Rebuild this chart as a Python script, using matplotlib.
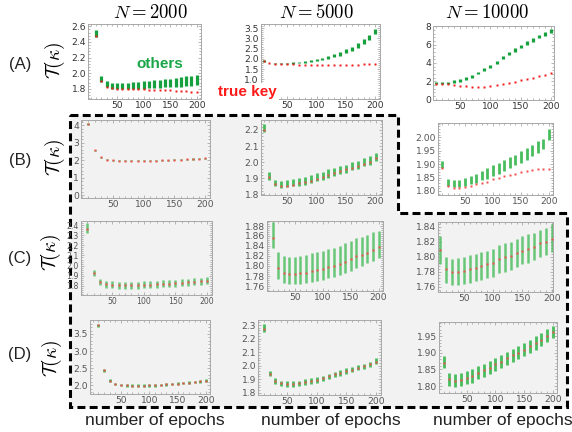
import numpy as np
import matplotlib
matplotlib.use("Agg")
import matplotlib.pyplot as plt
from matplotlib.patches import Polygon
from matplotlib.ticker import AutoMinorLocator, FormatStrFormatter

plt.rcParams["mathtext.fontset"] = "cm"

# ── Data ───────────────────────────────────────────────────────────────────────
EPOCHS = [10, 20, 30, 40, 50, 60, 70, 80, 90, 100,
          110, 120, 130, 140, 150, 160, 170, 180, 190, 200]

# (A) N = 2000 / 5000 / 10000
key_A1 = [2.48, 1.90, 1.83, 1.81, 1.80, 1.80, 1.80, 1.80, 1.80, 1.795,
          1.79, 1.79, 1.785, 1.78, 1.78, 1.775, 1.77, 1.77, 1.765, 1.76]
lo_A1 = [2.46, 1.89, 1.82, 1.80, 1.80, 1.80, 1.80, 1.80, 1.80, 1.80,
         1.81, 1.81, 1.81, 1.82, 1.82, 1.83, 1.83, 1.84, 1.84, 1.85]
hi_A1 = [2.55, 1.97, 1.90, 1.88, 1.88, 1.88, 1.88, 1.89, 1.89, 1.90,
         1.90, 1.91, 1.91, 1.92, 1.93, 1.94, 1.95, 1.96, 1.97, 1.98]

key_A2 = [1.88, 1.80, 1.77, 1.75, 1.74, 1.73, 1.72, 1.71, 1.70, 1.70,
          1.69, 1.69, 1.69, 1.69, 1.70, 1.71, 1.72, 1.73, 1.75, 1.77]
lo_A2 = [1.84, 1.78, 1.76, 1.76, 1.76, 1.77, 1.78, 1.80, 1.83, 1.87,
         1.92, 1.99, 2.07, 2.16, 2.27, 2.40, 2.55, 2.72, 2.92, 3.22]
hi_A2 = [1.92, 1.82, 1.80, 1.80, 1.81, 1.83, 1.85, 1.88, 1.92, 1.98,
         2.04, 2.12, 2.22, 2.33, 2.46, 2.60, 2.77, 2.95, 3.17, 3.48]

key_A3 = [1.72, 1.70, 1.65, 1.58, 1.50, 1.44, 1.40, 1.38, 1.40, 1.45,
          1.55, 1.68, 1.82, 1.95, 2.10, 2.25, 2.40, 2.55, 2.70, 2.87]
lo_A3 = [1.72, 1.72, 1.74, 1.80, 1.95, 2.12, 2.40, 2.78, 3.10, 3.45,
         3.85, 4.40, 4.85, 5.25, 5.65, 6.00, 6.35, 6.70, 7.00, 7.30]
hi_A3 = [1.90, 1.90, 1.95, 2.10, 2.25, 2.45, 2.70, 3.05, 3.40, 3.75,
         4.20, 4.75, 5.20, 5.60, 6.00, 6.40, 6.75, 7.05, 7.35, 7.70]

# (B)
key_B1 = [4.05, 2.55, 2.15, 2.03, 1.98, 1.96, 1.95, 1.95, 1.95, 1.95,
          1.96, 1.97, 1.98, 1.99, 2.01, 2.02, 2.04, 2.06, 2.08, 2.10]
lo_B1 = [4.01, 2.52, 2.12, 2.00, 1.95, 1.93, 1.92, 1.92, 1.92, 1.92,
         1.93, 1.94, 1.95, 1.96, 1.98, 1.99, 2.01, 2.03, 2.05, 2.07]
hi_B1 = [4.09, 2.59, 2.19, 2.07, 2.02, 2.00, 1.99, 1.99, 1.99, 1.99,
         2.00, 2.01, 2.02, 2.03, 2.05, 2.06, 2.08, 2.10, 2.12, 2.14]

key_B2 = [2.20, 1.91, 1.865, 1.855, 1.855, 1.86, 1.87, 1.875, 1.885, 1.895,
          1.905, 1.92, 1.93, 1.945, 1.955, 1.965, 1.975, 1.99, 2.00, 2.025]
lo_B2 = [2.19, 1.89, 1.85, 1.84, 1.845, 1.85, 1.855, 1.86, 1.87, 1.88,
         1.89, 1.90, 1.915, 1.925, 1.935, 1.95, 1.96, 1.975, 1.985, 2.01]
hi_B2 = [2.24, 1.94, 1.89, 1.885, 1.89, 1.895, 1.90, 1.91, 1.92, 1.93,
         1.94, 1.955, 1.965, 1.975, 1.985, 2.00, 2.01, 2.025, 2.04, 2.06]

key_B3 = [1.885, 1.82, 1.81, 1.81, 1.815, 1.82, 1.825, 1.83, 1.835, 1.845,
          1.85, 1.855, 1.86, 1.865, 1.87, 1.875, 1.877, 1.88, 1.88, 1.88]
lo_B3 = [1.885, 1.82, 1.815, 1.815, 1.82, 1.825, 1.83, 1.84, 1.845, 1.855,
         1.865, 1.875, 1.885, 1.895, 1.905, 1.915, 1.93, 1.94, 1.955, 1.99]
hi_B3 = [1.91, 1.845, 1.84, 1.84, 1.85, 1.855, 1.865, 1.875, 1.885, 1.895,
         1.905, 1.915, 1.925, 1.935, 1.95, 1.96, 1.97, 1.985, 1.995, 2.03]

# (C)
key_C1 = [2.36, 1.93, 1.84, 1.815, 1.81, 1.805, 1.805, 1.805, 1.805, 1.81,
          1.81, 1.815, 1.82, 1.82, 1.825, 1.83, 1.835, 1.84, 1.845, 1.85]
lo_C1 = [2.32, 1.90, 1.81, 1.78, 1.775, 1.77, 1.77, 1.77, 1.77, 1.775,
         1.775, 1.78, 1.785, 1.785, 1.79, 1.795, 1.80, 1.805, 1.81, 1.815]
hi_C1 = [2.42, 1.96, 1.87, 1.85, 1.845, 1.84, 1.84, 1.84, 1.84, 1.845,
         1.845, 1.85, 1.855, 1.855, 1.86, 1.865, 1.87, 1.875, 1.88, 1.885]

key_C2 = [1.855, 1.795, 1.786, 1.784, 1.784, 1.785, 1.786, 1.789, 1.791, 1.794,
          1.797, 1.80, 1.803, 1.808, 1.813, 1.819, 1.822, 1.826, 1.832, 1.837]
lo_C2 = [1.835, 1.773, 1.765, 1.763, 1.763, 1.764, 1.765, 1.767, 1.769, 1.772,
         1.775, 1.778, 1.781, 1.785, 1.79, 1.795, 1.80, 1.805, 1.81, 1.815]
hi_C2 = [1.888, 1.828, 1.82, 1.818, 1.818, 1.82, 1.822, 1.825, 1.828, 1.83,
         1.833, 1.836, 1.84, 1.845, 1.85, 1.855, 1.858, 1.862, 1.867, 1.87]

key_C3 = [1.809, 1.783, 1.779, 1.780, 1.781, 1.783, 1.785, 1.788, 1.790, 1.792,
          1.797, 1.799, 1.801, 1.805, 1.808, 1.810, 1.813, 1.818, 1.820, 1.824]
lo_C3 = [1.79, 1.765, 1.762, 1.762, 1.763, 1.765, 1.767, 1.769, 1.771, 1.773,
         1.778, 1.78, 1.782, 1.786, 1.79, 1.792, 1.795, 1.80, 1.802, 1.806]
hi_C3 = [1.828, 1.80, 1.797, 1.798, 1.80, 1.802, 1.804, 1.806, 1.808, 1.81,
         1.816, 1.818, 1.82, 1.824, 1.827, 1.83, 1.832, 1.836, 1.838, 1.843]

# (D)
key_D1 = [3.75, 2.43, 2.13, 2.03, 2.00, 1.99, 1.98, 1.98, 1.98, 1.99,
          1.99, 2.00, 2.02, 2.03, 2.04, 2.06, 2.07, 2.09, 2.11, 2.13]
lo_D1 = [3.70, 2.39, 2.09, 1.99, 1.96, 1.95, 1.94, 1.94, 1.94, 1.95,
         1.95, 1.96, 1.98, 1.99, 2.00, 2.02, 2.03, 2.05, 2.07, 2.09]
hi_D1 = [3.80, 2.47, 2.17, 2.07, 2.04, 2.03, 2.02, 2.02, 2.02, 2.03,
         2.03, 2.04, 2.06, 2.07, 2.08, 2.10, 2.11, 2.13, 2.15, 2.17]

key_D2 = [2.27, 1.94, 1.885, 1.87, 1.865, 1.865, 1.87, 1.88, 1.885, 1.895,
          1.905, 1.92, 1.935, 1.945, 1.96, 1.97, 1.985, 1.995, 2.01, 2.03]
lo_D2 = [2.25, 1.92, 1.865, 1.85, 1.845, 1.845, 1.85, 1.86, 1.865, 1.875,
         1.885, 1.90, 1.915, 1.925, 1.94, 1.95, 1.965, 1.975, 1.99, 2.01]
hi_D2 = [2.31, 1.96, 1.905, 1.89, 1.885, 1.885, 1.89, 1.90, 1.905, 1.915,
         1.925, 1.94, 1.955, 1.965, 1.98, 1.99, 2.005, 2.015, 2.03, 2.06]

key_D3 = [1.87, 1.82, 1.815, 1.818, 1.825, 1.83, 1.84, 1.847, 1.855, 1.865,
          1.873, 1.883, 1.893, 1.90, 1.91, 1.92, 1.93, 1.94, 1.952, 1.962]
lo_D3 = [1.855, 1.80, 1.797, 1.80, 1.805, 1.81, 1.82, 1.827, 1.835, 1.845,
         1.853, 1.862, 1.872, 1.88, 1.89, 1.90, 1.91, 1.92, 1.932, 1.945]
hi_D3 = [1.89, 1.84, 1.835, 1.838, 1.845, 1.85, 1.86, 1.867, 1.875, 1.885,
         1.893, 1.903, 1.913, 1.92, 1.93, 1.94, 1.95, 1.96, 1.972, 1.98]

# ── Layout (pixel boxes: left, top, right, bottom) ─────────────────────────────
W, H = 572, 432
GRAY = "#f2f2f2"

PANELS = [
    # name, box, xlim, ylim, yticks, fmt, key, lo, hi, row, labelsize
    ("A1", (88, 24, 201, 99), (-5, 208), (1.67, 2.63), [1.8, 2.0, 2.2, 2.4, 2.6], "%.1f", key_A1, lo_A1, hi_A1, "A", 6.6),
    ("A2", (261, 24, 380, 99), (5.6, 208), (0.04, 3.70), [1.0, 1.5, 2.0, 2.5, 3.0, 3.5], "%.1f", key_A2, lo_A2, hi_A2, "A", 6.6),
    ("A3", (433, 26, 554, 100), (5, 205), (-0.05, 8.05), [0, 2, 4, 6, 8], "%d", key_A3, lo_A3, hi_A3, "A", 6.6),
    ("B1", (81, 120, 210, 198), (-2, 208), (-0.17, 4.29), [0, 1, 2, 3, 4], "%d", key_B1, lo_B1, hi_B1, "B", 6.6),
    ("B2", (261, 120, 382, 195), (5.6, 211), (1.796, 2.262), [1.8, 1.9, 2.0, 2.1, 2.2], "%.1f", key_B2, lo_B2, hi_B2, "B", 6.6),
    ("B3", (438, 123, 553, 195), (2, 207), (1.785, 2.053), [1.80, 1.85, 1.90, 1.95, 2.00], "%.2f", key_B3, lo_B3, hi_B3, "B3", 6.6),
    ("C1", (81, 221, 212, 295), (0, 208), (1.71, 2.44), [1.8, 1.9, 2.0, 2.1, 2.2, 2.3, 2.4], "%.1f", key_C1, lo_C1, hi_C1, "C", 5.6),
    ("C2", (267, 221, 383, 291), (0, 208), (1.75, 1.89), [1.76, 1.78, 1.80, 1.82, 1.84, 1.86, 1.88], "%.2f", key_C2, lo_C2, hi_C2, "C", 6.6),
    ("C3", (438, 222, 553, 292), (6, 202), (1.753, 1.846), [1.76, 1.78, 1.80, 1.82, 1.84], "%.2f", key_C3, lo_C3, hi_C3, "C", 6.6),
    ("D1", (90, 320, 210, 394), (-5, 207), (1.74, 3.91), [2.0, 2.5, 3.0, 3.5], "%.1f", key_D1, lo_D1, hi_D1, "D", 6.6),
    ("D2", (258, 320, 381, 395), (0.5, 208.5), (1.783, 2.337), [1.8, 1.9, 2.0, 2.1, 2.2, 2.3], "%.1f", key_D2, lo_D2, hi_D2, "D", 6.6),
    ("D3", (439, 322, 557, 393), (2, 207), (1.779, 1.993), [1.80, 1.85, 1.90, 1.95], "%.2f", key_D3, lo_D3, hi_D3, "D", 6.6),
]


def fx(x):
    return x / W


def fy(y):
    return 1 - y / H


fig = plt.figure(figsize=(W / 100, H / 100), dpi=100)
fig.patch.set_facecolor("white")

# gray dashed region
region = [(70, 115), (398, 115), (398, 213), (567, 213), (567, 407), (70, 407)]
poly = Polygon([(fx(x), fy(y)) for x, y in region], closed=True,
               transform=fig.transFigure, facecolor=GRAY, edgecolor="black",
               lw=2.2, linestyle=(0, (2.6, 1.4)), zorder=-1)
fig.patches.append(poly)

for name, (l, t, r, b), xlim, ylim, yticks, fmt, key, lo, hi, row, lsize in PANELS:
    ax = fig.add_axes([fx(l), fy(b), (r - l) / W, (b - t) / H])
    in_gray = row in ("B", "C", "D")
    ax.set_facecolor(GRAY if in_gray else "white")

    if row == "A":
        gcol, glw, galpha, rcol, rms = "#16a03e", 2.3, 1.0, "#f21c1c", 2.0
    else:
        gcol, glw, galpha, rcol, rms = "#3fba55", 2.0, 0.95, "#f25050", 1.8
    if row == "C":
        gcol, glw, galpha = "#44bc58", 1.8, 0.8

    ax.vlines(EPOCHS, lo, hi, colors=gcol, lw=glw, alpha=galpha, zorder=2)
    ax.plot(EPOCHS, key, "s", ms=rms, color=rcol, mec="none", zorder=3)

    ax.set_xlim(*xlim)
    ax.set_ylim(*ylim)
    ax.set_xticks([50, 100, 150, 200])
    ax.set_yticks(yticks)
    ax.yaxis.set_major_formatter(FormatStrFormatter(fmt))
    ax.xaxis.set_minor_locator(AutoMinorLocator(5))
    ax.yaxis.set_minor_locator(AutoMinorLocator(5))

    lab_col = "#333333" if row == "A" else "#555555"
    ax.tick_params(which="both", direction="in", top=True, right=True,
                   color="#9a9a9a", width=0.5, labelsize=lsize,
                   labelcolor=lab_col, pad=1.5)
    ax.tick_params(which="major", length=2.2)
    ax.tick_params(which="minor", length=1.2)
    for sp in ax.spines.values():
        sp.set_color("#a8a8a8")
        sp.set_linewidth(0.7)

# column titles
for x, txt in [(150, r"$N = 2000$"), (316, r"$N = 5000$"), (487, r"$N = 10000$")]:
    fig.text(fx(x), fy(12), txt, ha="center", va="center", fontsize=13.5)

# row labels
for y, lab in [(65, "(A)"), (161, "(B)"), (258, "(C)"), (355, "(D)")]:
    fig.text(fx(20), fy(y), lab, ha="center", va="center", fontsize=12,
             family="Liberation Sans", color="#222222")
for x, y in [(55, 60), (55, 157), (51, 252), (52, 358)]:
    fig.text(fx(x), fy(y), r"$\mathcal{T}(\kappa)$", ha="center",
             va="center", fontsize=14, rotation=90)

# x labels
for x in [155, 331, 503]:
    fig.text(fx(x), fy(420), "number of epochs", ha="center", va="center",
             fontsize=12.5, family="Liberation Sans", color="#222222")

# annotations
fig.text(fx(160), fy(64), "others", ha="center", va="center", fontsize=11,
         fontweight="bold", family="Liberation Sans", color="#1aa548")
fig.text(fx(247), fy(92), "true key", ha="center", va="center", fontsize=11,
         fontweight="bold", family="Liberation Sans", color="#ff1a1a",
         bbox=dict(facecolor="white", edgecolor="none", pad=1.5))

fig.savefig("out.png", dpi=100)
